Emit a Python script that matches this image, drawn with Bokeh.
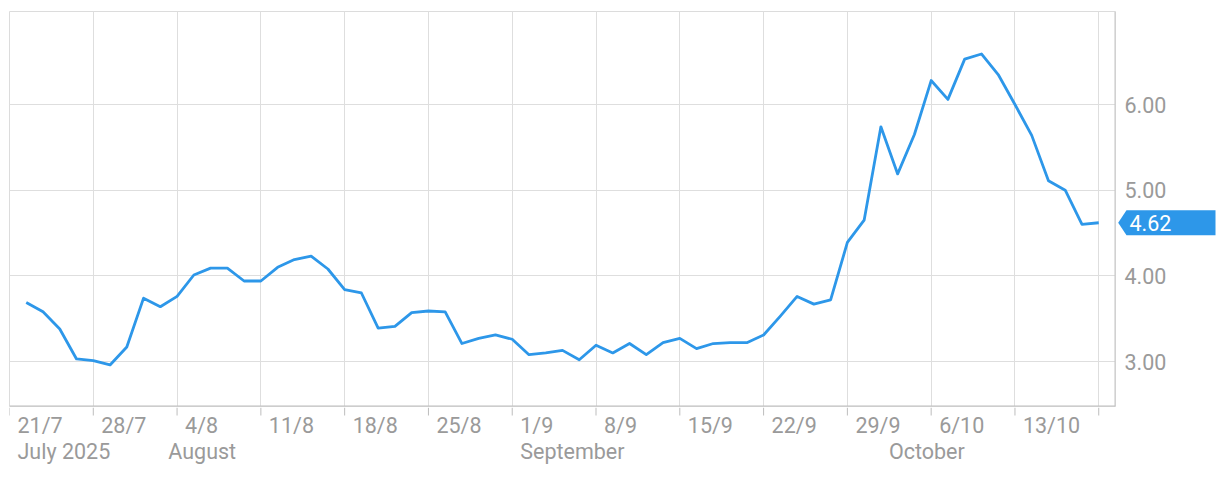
import numpy as np
from bokeh.plotting import figure
from bokeh.layouts import row, column
from bokeh.models import Range1d, FixedTicker
from bokeh.core.properties import value
from bokeh.embed import file_html
from bokeh.resources import INLINE

# ---------------- data ----------------
origin = "2025-07-21"          # Monday of the first week shown (business-day index 0)
first_date = "2025-07-22"
values = [3.69, 3.58, 3.38, 3.03, 3.01, 2.96, 3.17, 3.74, 3.64, 3.76,
          4.01, 4.09, 4.09, 3.94, 3.94, 4.10, 4.19, 4.23, 4.08, 3.84,
          3.80, 3.39, 3.41, 3.57, 3.59, 3.58, 3.21, 3.27, 3.31, 3.26,
          3.08, 3.10, 3.13, 3.02, 3.19, 3.10, 3.21, 3.08, 3.22, 3.27,
          3.15, 3.21, 3.22, 3.22, 3.31, 3.53, 3.76, 3.67, 3.72, 4.39,
          4.65, 5.74, 5.19, 5.65, 6.28, 6.06, 6.53, 6.59, 6.35, 6.00,
          5.64, 5.11, 5.00, 4.60, 4.62]
week_dates = ["2025-07-21", "2025-07-28", "2025-08-04", "2025-08-11", "2025-08-18",
              "2025-08-25", "2025-09-01", "2025-09-08", "2025-09-15", "2025-09-22",
              "2025-09-29", "2025-10-06", "2025-10-13", "2025-10-20"]
week_labels = ["21/7", "28/7", "4/8", "11/8", "18/8", "25/8", "1/9", "8/9",
               "15/9", "22/9", "29/9", "6/10", "13/10", ""]
month_dates = ["2025-07-21", "2025-08-01", "2025-09-01", "2025-10-01"]
month_labels = ["July 2025", "August", "September", "October"]
y_ticks = [3, 4, 5, 6]
y_tick_labels = ["3.00", "4.00", "5.00", "6.00"]

# ---------------- positions on a business-day scale ----------------
dates = np.busday_offset(first_date, np.arange(len(values)), roll="forward")
xs = np.busday_count(origin, dates).astype(float)
week_x = [int(np.busday_count(origin, d)) for d in week_dates]
month_x = [int(np.busday_count(origin, d)) for d in month_dates]

BLUE = "#2d97e9"
GRAY_TXT = "#9a9a9a"
AXIS = "#bdbdbd"
GRID = "#dedede"
FONT = value("Roboto")
FS = "21.5px"

X0, X1 = 0, 66
Y0, Y1 = 2.475, 7.086
xr = Range1d(X0, X1)
yr = Range1d(Y0, Y1)


def bare(fig):
    fig.xaxis.visible = False
    fig.yaxis.visible = False
    fig.xgrid.visible = False
    fig.ygrid.visible = False
    fig.background_fill_color = "white"
    fig.border_fill_color = "white"
    return fig


# ---------------- main plot ----------------
p = figure(width=1116, height=407, output_backend="svg", toolbar_location=None,
           x_range=xr, y_range=yr, x_axis_location=None, y_axis_location=None,
           min_border_left=9, min_border_right=1, min_border_top=11,
           min_border_bottom=1)
p.background_fill_color = "white"
p.border_fill_color = "white"
p.outline_line_color = "#dcdcdc"
p.xgrid.ticker = FixedTicker(ticks=week_x)
p.ygrid.ticker = FixedTicker(ticks=y_ticks)
p.xgrid.grid_line_color = GRID
p.ygrid.grid_line_color = GRID

# darker right and bottom frame lines (half clipped by the frame)
p.line([X1, X1], [Y0, Y1], line_color="#c6c6c6", line_width=2)
p.line([X0, X1], [Y0, Y0], line_color=AXIS, line_width=2)

p.line(xs, values, line_color=BLUE, line_width=2.8, line_join="round")

# ---------------- right side: value labels and last-value tag ----------------
side = bare(figure(width=104, height=407, output_backend="svg", toolbar_location=None,
                   x_range=Range1d(0, 104), y_range=yr,
                   min_border_left=0, min_border_right=0, min_border_top=11,
                   min_border_bottom=1))
side.outline_line_color = None
side.text(x=[8] * len(y_ticks), y=y_ticks, text=y_tick_labels,
          text_font=FONT, text_font_size=FS, text_color=GRAY_TXT,
          text_baseline="middle", text_align="left")

last = values[-1]
px_per_y = 395.0 / (Y1 - Y0)
hh = 12.5 / px_per_y
side.patch([1.7, 10, 99, 99, 10],
           [last, last + hh, last + hh, last - hh, last - hh],
           fill_color=BLUE, line_color=None)
side.text(x=[13], y=[last], text=[f"{last:.2f}"], text_font=FONT,
          text_font_size=FS, text_color="white",
          text_baseline="middle", text_align="left")

# ---------------- bottom: ticks and date labels ----------------
bot = bare(figure(width=1116, height=63, output_backend="svg", toolbar_location=None,
                  x_range=xr, y_range=Range1d(63, 0),
                  min_border_left=9, min_border_right=1, min_border_top=0,
                  min_border_bottom=0))
bot.outline_line_color = None
bot.segment(x0=week_x, y0=[0] * len(week_x), x1=week_x, y1=[8] * len(week_x),
            line_color=AXIS, line_width=1)
bot.text(x=week_x, y=[18] * len(week_x), text=week_labels, x_offset=8,
         text_font=FONT, text_font_size=FS, text_color=GRAY_TXT,
         text_baseline="alphabetic", text_align="left")
bot.text(x=month_x, y=[44] * len(month_x), text=month_labels, x_offset=8,
         text_font=FONT, text_font_size=FS, text_color=GRAY_TXT,
         text_baseline="alphabetic", text_align="left")

layout = column(row(p, side, spacing=0), bot, spacing=0)
open("out.html", "w").write(file_html(layout, INLINE))
